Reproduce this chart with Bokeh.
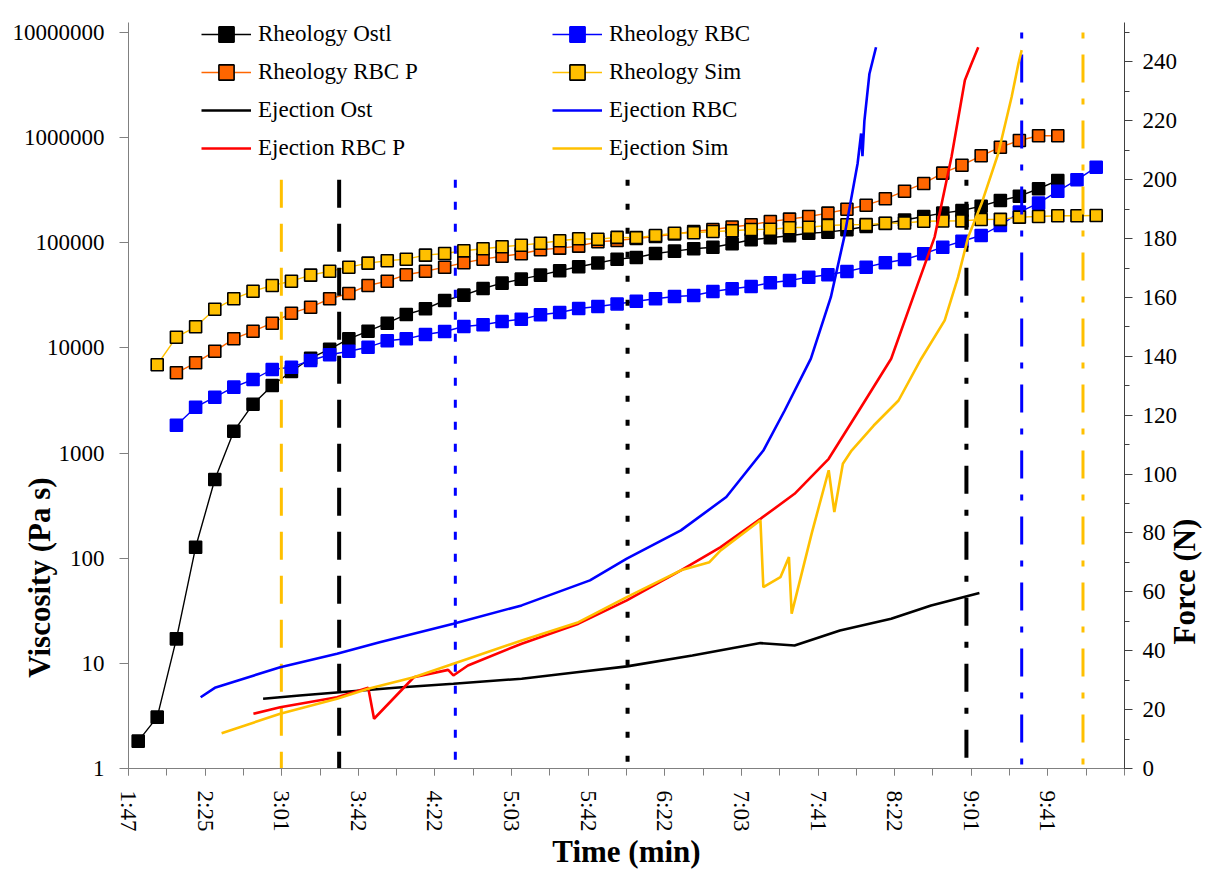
import math
from bokeh.plotting import figure
from bokeh.models import (Range1d, LinearAxis, LinearScale, FixedTicker, SingleIntervalTicker,
                          PrintfTickFormatter, CustomJSTickFormatter, Legend, LegendItem,
                          ColumnDataSource)
from bokeh.embed import file_html
from bokeh.resources import INLINE

nan = float("nan")

# ---------------- data ----------------
X_TICK_LABELS = ["1:47", "2:25", "3:01", "3:42", "4:22", "5:03", "5:42",
                 "6:22", "7:03", "7:41", "8:22", "9:01", "9:41"]
X_START_S = 107.0        # first labelled tick (s)
X_LABEL_STEP_S = 39.5    # spacing of labelled ticks (s)

# rheology sampling times (s)
RHEO_T = [112.0, 121.8, 131.7, 141.6, 151.5, 161.3, 171.2, 181.1, 191.0, 200.9,
          210.7, 220.6, 230.5, 240.4, 250.2, 260.1, 270.0, 279.9, 289.8, 299.6,
          309.5, 319.4, 329.3, 339.1, 349.0, 358.9, 368.8, 378.7, 388.5, 398.4,
          408.3, 418.2, 428.0, 437.9, 447.8, 457.7, 467.6, 477.4, 487.3, 497.2,
          507.1, 517.0, 526.8, 536.7, 546.6, 556.5, 566.3, 576.2, 586.1, 596.0,
          605.9]

RHEO_OSTL = [1.82, 3.08, 17.1, 127, 561, 1615, 2917, 4395, 5970, 7985,
             9730, 12200, 14430, 17190, 20800, 23560, 28250, 31770, 36740, 41300,
             45080, 49200, 54180, 59130, 64270, 69840, 72450, 79100, 83220, 87700,
             90800, 97800, 106800, 111600, 116600, 123400, 126200, 133000, 142900, 152700,
             164800, 177900, 191300, 202800, 222900, 252600, 277500, 326500, 391500, nan,
             nan]
RHEO_RBC = [nan, nan, 1841, 2730, 3400, 4235, 5010, 6235, 6560, 7600,
            8610, 9310, 10160, 11690, 12210, 13420, 14330, 15990, 16600, 17830,
            18760, 20650, 21730, 23720, 24790, 26200, 27800, 29330, 30840, 31550,
            34420, 36500, 38400, 41680, 43780, 47080, 49630, 53340, 58610, 64550,
            69350, 78600, 90800, 103500, 117300, 146100, 195500, 238200, 309600, 397300,
            523600]
RHEO_RBCP = [nan, nan, 5800, 7220, 9310, 12210, 14430, 17190, 21400, 24400,
             29330, 32950, 39270, 43140, 49630, 53680, 58610, 64550, 69840, 74530,
             78600, 85750, 88870, 92900, 102300, 105200, 109900, 114800, 121300, 128000,
             133800, 141300, 148300, 159500, 167800, 177900, 191300, 208700, 227800, 262000,
             309600, 366600, 459300, 547000, 671600, 811500, 940000, 1042000, 1042000, nan,
             nan]
RHEO_SIM = [nan, 6915, 12650, 15890, 23350, 29330, 34650, 39270, 43140, 49200,
            53680, 58610, 63990, 67440, 69840, 76250, 79100, 83920, 87700, 91600,
            94900, 99100, 104500, 109200, 108000, 112500, 112000, 117300, 123400, 124500,
            128000, 130000, 133800, 134500, 138900, 140700, 146100, 148300, 149000, 153600,
            154000, 160400, 161000, 161500, 166600, 167000, 175300, 177900, 180700, 181000,
            181900]

# ejection force curves (time s, force N)
EJ_OST_T = [176.4, 195.2, 215.9, 246.2, 274.5, 309.7, 338.1, 364.0, 397.7, 432.8,
            450.4, 473.8, 500.2, 520.8, 545.7]
EJ_OST_F = [23.7, 24.8, 25.9, 27.5, 28.8, 30.5, 32.7, 34.7, 38.4, 42.6,
            41.8, 46.9, 50.9, 55.4, 59.6]

EJ_RBC_T = [144.2, 151.5, 185.2, 214.5, 236.5, 274.5, 309.7, 344.9, 363.9, 391.8,
            415.2, 434.3, 445.3, 458.8, 469.1, 476.0, 482.9, 484.7, 485.4, 486.4,
            489.0, 492.4]
EJ_RBC_F = [24.2, 27.4, 34.4, 39.0, 42.9, 49.2, 55.4, 63.9, 71.3, 80.9,
            92.2, 108.0, 121.6, 139.2, 160.1, 180.5, 205.5, 215.7, 208.0, 220.0,
            236.0, 245.0]

EJ_RBCP_T = [171.4, 185.2, 214.5, 230.6, 233.6, 254.1, 271.8, 274.5, 282.0, 309.7,
             339.0, 363.9, 391.8, 412.3, 432.8, 450.4, 468.0, 483.6, 500.2, 514.0,
             522.6, 531.3, 538.2, 541.6, 545.1]
EJ_RBCP_F = [18.6, 20.8, 24.2, 27.4, 16.9, 31.0, 33.5, 31.6, 35.0, 42.4,
             49.2, 57.1, 67.3, 75.2, 84.8, 93.3, 105.2, 121.6, 139.2, 164.7,
             180.5, 207.7, 233.8, 239.4, 245.0]

EJ_SIM_T = [155.0, 185.2, 214.5, 230.6, 254.1, 274.5, 309.7, 339.0, 363.9, 391.8,
            406.5, 412.3, 432.8, 434.3, 443.1, 447.5, 448.9, 459.2, 468.0, 470.9,
            475.3, 479.8, 491.2, 504.0, 515.7, 527.8, 534.7, 539.9, 546.8, 555.4,
            562.3, 565.8, 567.5]
EJ_SIM_F = [12.0, 18.6, 23.7, 27.1, 31.0, 35.6, 43.5, 49.7, 58.2, 67.3,
            70.1, 74.1, 84.3, 61.6, 65.0, 71.8, 52.6, 79.8, 101.3, 87.1,
            103.5, 108.0, 116.5, 125.0, 139.2, 152.2, 166.9, 180.5, 191.9, 208.9,
            228.1, 239.4, 244.0]

# vertical marker lines (time s, top force N)
VLINE_T = [185.8, 215.6, 275.5, 364.3, 539.0, 567.5, 599.1]
VLINE_TOP = [200, 200, 200, 200, 200, 250, 250]
VLINE_COLOR = ["#FFC000", "#000000", "#0000FF", "#000000", "#000000", "#0000FF", "#FFC000"]
VLINE_DASH = ["28 16", "28 16", "8 14", "6 18", "6 16 28 16", "6 16 28 16", "6 16 28 16"]
VLINE_WIDTH = [3, 4, 3, 4, 4, 3, 3]

FONT = "Liberation Serif"
NBSP = "\u00a0"

X_END_S = X_START_S + len(X_TICK_LABELS) * X_LABEL_STEP_S

# frame is extended 10 px above the top decade so the first legend row is not clipped
TOP_PAD_DECADES = 10 / 105.14
TOP_PAD_FORCE = 10 / 2.943

p = figure(width=1222, height=872,
           x_range=Range1d(X_START_S, X_END_S),
           y_range=Range1d(1, 10 ** (7 + TOP_PAD_DECADES)), y_axis_type="log",
           output_backend="svg", toolbar_location=None,
           min_border_left=128, min_border_right=90,
           min_border_top=22, min_border_bottom=104)
p.extra_y_ranges = {"force": Range1d(0, 250 + TOP_PAD_FORCE)}
p.extra_y_scales = {"force": LinearScale()}
p.outline_line_color = None
p.xgrid.visible = False
p.ygrid.visible = False
p.background_fill_color = "white"
p.border_fill_color = "white"

# ---- x axis ----
xa = p.xaxis[0]
xa.ticker = FixedTicker(
    ticks=[X_START_S + i * X_LABEL_STEP_S for i in range(len(X_TICK_LABELS))],
    minor_ticks=[X_START_S + i * X_LABEL_STEP_S / 2 for i in range(2 * len(X_TICK_LABELS) + 1)])
xa.formatter = CustomJSTickFormatter(
    args=dict(labels=X_TICK_LABELS, start=X_START_S, step=X_LABEL_STEP_S),
    code="const i = Math.round((tick - start) / step); return (i >= 0 && i < labels.length) ? labels[i] : '';")
xa.major_label_orientation = -math.pi / 2
xa.major_label_text_font = FONT
xa.major_label_text_font_size = "23px"
xa.major_label_text_color = "black"
xa.major_label_standoff = 15
xa.major_tick_in = 0
xa.major_tick_out = 7
xa.minor_tick_in = 0
xa.minor_tick_out = 7
xa.axis_line_color = "#808080"
xa.major_tick_line_color = "#808080"
xa.minor_tick_line_color = "#808080"
xa.axis_label = "Time (min)"
xa.axis_label_text_font = FONT
xa.axis_label_text_font_style = "bold"
xa.axis_label_text_font_size = "31px"
xa.axis_label_text_color = "black"
xa.axis_label_standoff = 0

# ---- left log axis ----
ya = p.yaxis[0]
ya.ticker = FixedTicker(ticks=[1, 10, 100, 1000, 10000, 100000, 1000000, 10000000])
ya.formatter = PrintfTickFormatter(format="%d")
ya.major_label_text_font = FONT
ya.major_label_text_font_size = "23px"
ya.major_label_text_color = "black"
ya.major_label_standoff = 15
ya.major_tick_in = 0
ya.major_tick_out = 9
ya.minor_tick_line_color = None
ya.axis_line_color = "#808080"
ya.major_tick_line_color = "#808080"
# trailing no-break spaces shift the (bottom-to-top) title toward the lower part of the axis
ya.axis_label = "Viscosity (Pa s)" + NBSP * 47
ya.axis_label_text_font = FONT
ya.axis_label_text_font_style = "bold"
ya.axis_label_text_font_size = "31px"
ya.axis_label_text_color = "black"
ya.axis_label_standoff = -47

# ---- right force axis ----
ra = LinearAxis(y_range_name="force",
                ticker=SingleIntervalTicker(interval=20, num_minor_ticks=2))
ra.major_label_text_font = FONT
ra.major_label_text_font_size = "23px"
ra.major_label_text_color = "black"
ra.major_label_standoff = 10
ra.major_tick_in = 0
ra.major_tick_out = 8
ra.minor_tick_in = 0
ra.minor_tick_out = 5
ra.axis_line_color = "#404040"
ra.major_tick_line_color = "#404040"
ra.minor_tick_line_color = "#404040"
ra.axis_label_text_font = FONT
ra.axis_label_text_font_style = "bold"
ra.axis_label_text_font_size = "31px"
ra.axis_label_text_color = "black"
ra.axis_label_standoff = 4
ra_props = ra.properties()
if "axis_label_orientation" in ra_props:
    ra.axis_label_orientation = math.pi / 2   # read bottom-to-top, anchored at text start
if "axis_label_align" in ra_props:
    ra.axis_label_align = "start"
    ra.axis_label = NBSP * 16 + "Force (N)"
else:
    ra.axis_label = "Force (N)"
p.add_layout(ra, "right")

# ---- rheology series ----
src = ColumnDataSource(dict(t=RHEO_T, ostl=RHEO_OSTL, rbc=RHEO_RBC, rbcp=RHEO_RBCP, sim=RHEO_SIM))

def rheo(col, line_color, fill, outline):
    ln = p.line("t", col, source=src, line_color=line_color, line_width=1.4)
    sc = p.scatter("t", col, source=src, marker="square", size=12,
                   fill_color=fill, line_color=outline, line_width=1.6)
    return [ln, sc]

r_ostl = rheo("ostl", "black", "black", "black")
r_rbc = rheo("rbc", "#0000FF", "#0000FF", "#0000FF")
r_rbcp = rheo("rbcp", "#FF6600", "#FF6600", "black")
r_sim = rheo("sim", "#FFC000", "#FFC000", "black")

# ---- vertical marker lines ----
for t, top, c, d, w in zip(VLINE_T, VLINE_TOP, VLINE_COLOR, VLINE_DASH, VLINE_WIDTH):
    p.segment(x0=[t], y0=[top], x1=[t], y1=[0], y_range_name="force",
              line_color=c, line_dash=d, line_width=w, line_cap="butt")

# ---- ejection curves ----
e_ost = p.line(EJ_OST_T, EJ_OST_F, y_range_name="force", line_color="black", line_width=2.6)
e_rbc = p.line(EJ_RBC_T, EJ_RBC_F, y_range_name="force", line_color="#0000FF", line_width=2.6)
e_rbcp = p.line(EJ_RBCP_T, EJ_RBCP_F, y_range_name="force", line_color="#FF0000", line_width=2.6)
e_sim = p.line(EJ_SIM_T, EJ_SIM_F, y_range_name="force", line_color="#FFC000", line_width=2.6)

# ---- legends (two columns) ----
def make_legend(items, vx):
    lg = Legend(items=items, location=(vx, 601), orientation="vertical",
                padding=0, spacing=0, margin=0,
                glyph_width=50, glyph_height=38, label_height=38, label_standoff=7,
                label_text_font=FONT, label_text_font_size="23px", label_text_color="black",
                border_line_color=None, background_fill_alpha=0)
    p.add_layout(lg)

make_legend([LegendItem(label="Rheology Ostl", renderers=r_ostl),
             LegendItem(label="Rheology RBC P", renderers=r_rbcp),
             LegendItem(label="Ejection Ost", renderers=[e_ost]),
             LegendItem(label="Ejection RBC P", renderers=[e_rbcp])], 73)
make_legend([LegendItem(label="Rheology RBC", renderers=r_rbc),
             LegendItem(label="Rheology Sim", renderers=r_sim),
             LegendItem(label="Ejection RBC", renderers=[e_rbc]),
             LegendItem(label="Ejection Sim", renderers=[e_sim])], 424)

open("out.html", "w").write(file_html(p, INLINE))
